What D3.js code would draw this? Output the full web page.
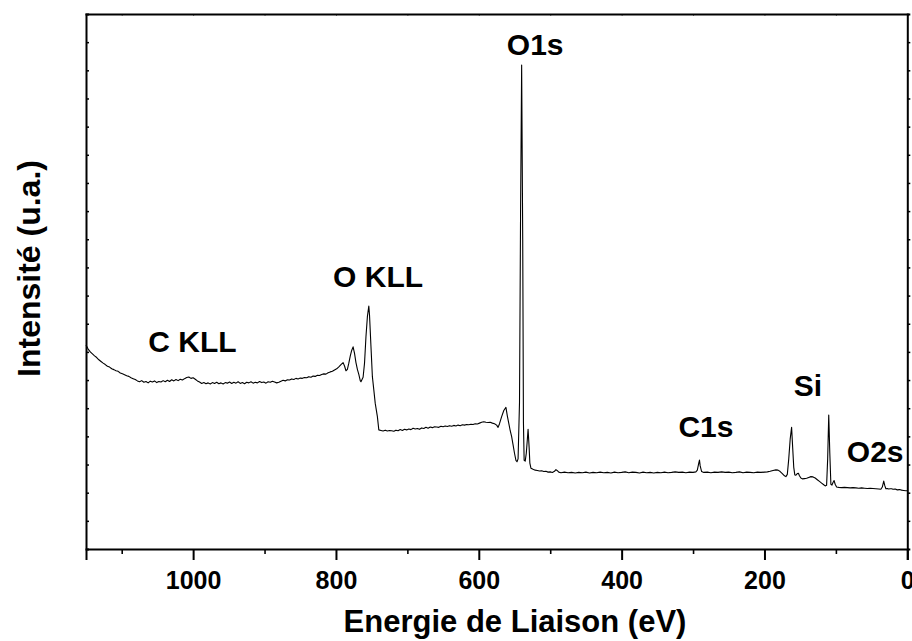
<!DOCTYPE html>
<html>
<head>
<meta charset="utf-8">
<script src="https://cdn.jsdelivr.net/npm/d3@7"></script>
<style>
  html, body { margin: 0; padding: 0; background: #fff; }
  svg { display: block; font-family: "Liberation Sans", Arial, Helvetica, sans-serif; }
  .axis path, .axis line { stroke: #000; }
  .axis text { font-size: 25px; font-weight: bold; fill: #000; }
</style>
</head>
<body>
<svg id="chart" width="912" height="641"></svg>
<script>
// DATA : XPS survey spectrum, [binding energy (eV), intensity (a.u.)]
const spectrum = [
  [1150,7.24],[1147,7.10],[1144,7.00],[1141,6.93],[1138,6.86],[1135,6.80],[1132,6.72],[1129,6.66],
  [1126,6.60],[1123,6.55],[1120,6.49],[1117,6.46],[1114,6.40],[1111,6.37],[1108,6.33],[1105,6.31],
  [1102,6.25],[1099,6.22],[1096,6.19],[1093,6.15],[1090,6.13],[1087,6.08],[1084,6.05],[1081,6.02],
  [1078,5.97],[1075,5.94],[1072,5.98],[1069,5.92],[1066,5.95],[1063,5.90],[1060,5.96],[1057,5.93],
  [1054,5.97],[1051,5.91],[1048,5.95],[1045,5.93],[1042,5.98],[1039,5.94],[1036,5.99],[1033,5.95],
  [1030,6.01],[1027,5.97],[1024,6.02],[1021,5.98],[1018,6.03],[1015,6.00],[1012,6.05],[1009,6.09],
  [1006,6.11],[1003,6.06],[1000,6.08],[997,6.03],[994,5.97],[991,5.93],[988,5.88],[985,5.91],
  [982,5.87],[979,5.90],[976,5.86],[973,5.91],[970,5.88],[967,5.92],[964,5.87],[961,5.90],
  [958,5.86],[955,5.91],[952,5.89],[949,5.93],[946,5.88],[943,5.92],[940,5.89],[937,5.94],
  [934,5.88],[931,5.91],[928,5.87],[925,5.92],[922,5.90],[919,5.94],[916,5.89],[913,5.92],
  [910,5.90],[907,5.95],[904,5.91],[901,5.93],[898,5.89],[895,5.94],[892,5.92],[889,5.96],
  [886,5.93],[883,5.90],[880,5.92],[877,5.96],[874,5.99],[871,5.97],[868,6.01],[865,6.00],
  [862,6.04],[859,6.02],[856,6.06],[853,6.04],[850,6.07],[847,6.06],[844,6.09],[841,6.08],
  [838,6.12],[835,6.10],[832,6.14],[829,6.13],[826,6.17],[823,6.16],[820,6.20],[817,6.22],
  [814,6.21],[811,6.26],[808,6.29],[805,6.31],[802,6.36],[799,6.40],[796,6.47],[793,6.55],
  [790,6.62],[788,6.50],[786,6.33],[784,6.38],[782,6.60],[780,6.85],[778,7.05],[776,7.18],
  [774,6.95],[772,6.62],[770,6.38],[768,6.20],[766,5.98],[765,5.94],[763,6.05],[762,6.10],
  [760,6.60],[758,7.54],[756,8.25],[754,8.63],[753,8.30],[751,7.20],[749,6.12],[747,5.65],
  [745,5.17],[742,4.70],[740,4.23],[737,4.21],[734,4.19],[731,4.22],[728,4.19],[725,4.21],
  [722,4.20],[719,4.18],[716,4.22],[713,4.20],[710,4.24],[707,4.21],[704,4.25],[701,4.23],
  [698,4.26],[695,4.24],[692,4.29],[689,4.26],[686,4.28],[683,4.25],[680,4.30],[677,4.28],
  [674,4.32],[671,4.29],[668,4.33],[665,4.31],[662,4.34],[659,4.33],[656,4.32],[653,4.36],
  [650,4.34],[647,4.37],[644,4.35],[641,4.38],[638,4.36],[635,4.39],[632,4.37],[629,4.40],
  [626,4.38],[623,4.41],[620,4.40],[617,4.42],[614,4.41],[611,4.43],[608,4.42],[605,4.45],
  [602,4.44],[599,4.47],[596,4.50],[593,4.52],[590,4.50],[587,4.49],[584,4.50],[581,4.47],
  [578,4.45],[575,4.40],[573,4.32],[571,4.45],[568,4.70],[565,4.92],[562,5.03],[560,4.72],
  [558,4.46],[556,4.20],[554,3.99],[552,3.70],[550,3.40],[548,3.15],[546.5,3.10],[545,3.20],
  [543,5.2],[541.5,12.0],[540,17.19],[538.5,11.0],[537.5,4.5],[536.5,3.15],[535,3.12],[533.5,3.40],
  [532,3.90],[531,4.25],[529.5,3.60],[528.5,3.05],[527,2.87],[524,2.83],[521,2.80],[518,2.79],
  [515,2.77],[512,2.78],[509,2.75],[506,2.76],[503,2.73],[500,2.74],[497,2.72],[494,2.76],
  [492,2.82],[490,2.78],[488,2.73],[485,2.71],[480,2.73],[475,2.71],[470,2.72],[465,2.70],
  [460,2.72],[455,2.71],[450,2.73],[445,2.70],[440,2.72],[435,2.71],[430,2.73],[425,2.71],
  [420,2.72],[415,2.70],[410,2.73],[405,2.71],[400,2.72],[395,2.74],[390,2.71],[385,2.73],
  [380,2.72],[375,2.70],[370,2.73],[365,2.71],[360,2.72],[355,2.70],[350,2.72],[345,2.71],
  [340,2.73],[335,2.71],[330,2.72],[325,2.74],[320,2.72],[315,2.73],[310,2.71],[305,2.73],
  [300,2.72],[296,2.74],[294,2.80],[292,3.05],[291,3.16],[290,2.95],[288,2.75],[285,2.72],
  [280,2.73],[275,2.71],[270,2.73],[265,2.72],[260,2.74],[255,2.72],[250,2.73],[245,2.71],
  [240,2.72],[235,2.74],[230,2.71],[225,2.73],[220,2.72],[215,2.71],[210,2.73],[205,2.72],
  [200,2.73],[196,2.74],[192,2.76],[188,2.79],[184,2.81],[181,2.80],[178,2.75],[175,2.68],
  [172,2.60],[170,2.57],[168,2.65],[166,3.20],[164,3.90],[162,4.32],[160.5,3.60],[159,2.90],
  [157.5,2.63],[156,2.62],[154,2.68],[152.5,2.69],[151,2.60],[149,2.52],[147,2.49],[144,2.50],
  [141,2.51],[138,2.54],[135,2.57],[132,2.56],[129,2.52],[126,2.46],[123,2.40],[120,2.34],
  [117,2.28],[115,2.24],[113,2.26],[111.5,3.20],[110,4.76],[108.5,3.40],[107,2.30],[105.5,2.27],
  [104,2.36],[102.5,2.43],[101,2.30],[99,2.20],[96,2.19],[92,2.18],[88,2.19],[84,2.18],
  [80,2.17],[76,2.18],[72,2.17],[68,2.16],[64,2.17],[60,2.16],[56,2.15],[52,2.16],
  [48,2.15],[44,2.14],[40,2.13],[37,2.12],[35,2.20],[33,2.41],[31.5,2.25],[30,2.14],
  [28,2.15],[26,2.13],[24,2.14],[22,2.14],[20,2.12],[17,2.13],[14,2.10],[11,2.11],
  [8,2.09],[5,2.08],[2,2.07],[0,2.07]
];

// tick values
const xMajorTicks = [1000, 800, 600, 400, 200, 0];
const xMinorTicks = [1100, 900, 700, 500, 300, 100];
const yTicks = d3.range(1, 19);

// peak names, anchored in data units (label centre, baseline)
const peakNames = ['O1s', 'O KLL', 'C KLL', 'C1s', 'Si', 'O2s'];
const peakLabelE = [521, 741, 1001, 282, 139, 45];
const peakLabelI = [17.55, 9.30, 7.0, 3.98, 5.43, 3.09];

const xTitle = 'Energie de Liaison (eV)';
const yTitle = 'Intensité (u.a.)';

// SVG, SCALES, AXES
const svg = d3.select('#chart');
const margin = { top: 14, right: 4.7, bottom: 92, left: 86 };
const width = 912, height = 641;

const x = d3.scaleLinear()
  .domain([1150, 0])
  .range([margin.left, width - margin.right]);

const y = d3.scaleLinear()
  .domain([0, 19])
  .range([height - margin.bottom, margin.top]);

// frame axes
const bottomAxis = svg.append('g').attr('class', 'axis')
  .attr('transform', `translate(0,${y(0)})`)
  .call(d3.axisBottom(x).tickValues(xMajorTicks).tickSize(11).tickPadding(11).tickFormat(d3.format('d')));
bottomAxis.select('.domain').attr('stroke-width', 2);
bottomAxis.selectAll('.tick line').attr('stroke-width', 2);

svg.append('g').attr('class', 'axis')
  .attr('transform', `translate(0,${y(0)})`)
  .call(d3.axisBottom(x).tickValues(xMinorTicks).tickSize(5).tickFormat(''))
  .call(g => g.select('.domain').remove())
  .selectAll('.tick line').attr('stroke-width', 1.6);

const topAxis = svg.append('g').attr('class', 'axis')
  .attr('transform', `translate(0,${y(19)})`)
  .call(d3.axisTop(x).tickValues(xMajorTicks.concat(xMinorTicks)).tickSize(-1.5).tickFormat(''));
topAxis.select('.domain').attr('stroke-width', 2);

const leftAxis = svg.append('g').attr('class', 'axis')
  .attr('transform', `translate(${x(1150)},0)`)
  .call(d3.axisLeft(y).tickValues(yTicks).tickSize(-3).tickFormat(''));
leftAxis.select('.domain').attr('stroke-width', 2);
leftAxis.selectAll('.tick line').attr('stroke-width', 1.5);

const rightAxis = svg.append('g').attr('class', 'axis')
  .attr('transform', `translate(${x(0)},0)`)
  .call(d3.axisRight(y).tickValues(yTicks).tickSize(3).tickFormat(''));
rightAxis.select('.domain').attr('stroke-width', 2);
rightAxis.selectAll('.tick line').attr('stroke-width', 1.5);

// SPECTRUM LINE
const line = d3.line()
  .x(d => x(d[0]))
  .y(d => y(d[1]));

svg.append('path')
  .datum(spectrum)
  .attr('d', line)
  .attr('fill', 'none')
  .attr('stroke', '#000')
  .attr('stroke-width', 1.1)
  .attr('stroke-linejoin', 'round');

// PEAK LABELS
svg.append('g').selectAll('text')
  .data(peakNames)
  .join('text')
  .attr('x', (d, i) => x(peakLabelE[i]))
  .attr('y', (d, i) => y(peakLabelI[i]))
  .attr('text-anchor', 'middle')
  .attr('font-size', 30)
  .attr('font-weight', 'bold')
  .text(d => d);

// AXIS TITLES
svg.append('text')
  .attr('x', 515)
  .attr('y', 632)
  .attr('text-anchor', 'middle')
  .attr('font-size', 31)
  .attr('font-weight', 'bold')
  .text(xTitle);

svg.append('text')
  .attr('transform', `translate(39.5,268.5) rotate(-90)`)
  .attr('text-anchor', 'middle')
  .attr('font-size', 32)
  .attr('font-weight', 'bold')
  .text(yTitle);
</script>
</body>
</html>
